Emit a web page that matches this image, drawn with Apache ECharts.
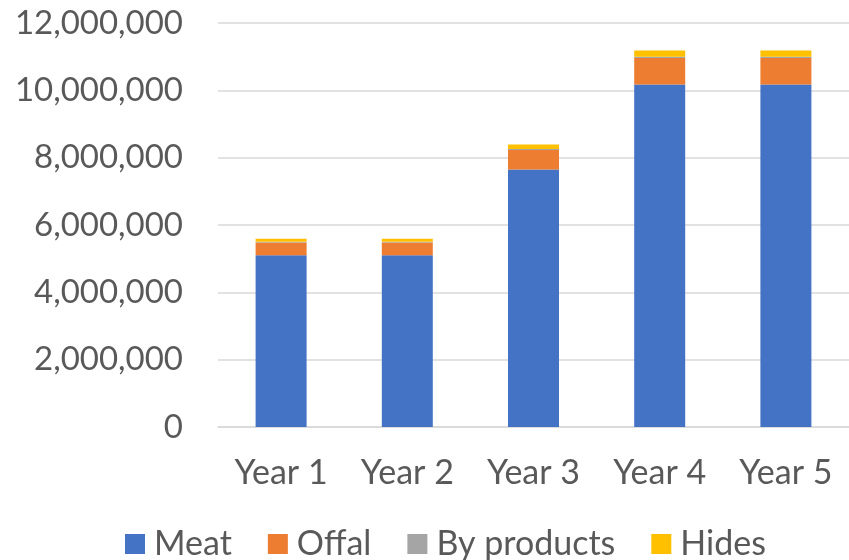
<!DOCTYPE html>
<html><head><meta charset="utf-8">
<script src="https://cdn.jsdelivr.net/npm/echarts@6/dist/echarts.min.js"></script>
<style>html,body{margin:0;padding:0;background:#fff}#c{width:849px;height:560px}</style>
</head><body><div id="c"></div>
<script>
const categories = ['Year 1','Year 2','Year 3','Year 4','Year 5'];
const meat = [5100000, 5100000, 7650000, 10170000, 10170000];
const offal = [380000, 380000, 580000, 790000, 790000];
const byProducts = [20000, 20000, 30000, 40000, 40000];
const hides = [90000, 90000, 130000, 180000, 180000];
const seriesNames = ['Meat','Offal','By products','Hides'];
const colors = ['#4472C4','#ED7D31','#A5A5A5','#FFC000'];
const FONT = 'Lato';
const chart = echarts.init(document.getElementById('c'));
const data = [meat, offal, byProducts, hides];
chart.setOption({
  animation: false,
  color: colors,
  grid: {left: 218, right: -3, top: 23, bottom: 133, containLabel: false},
  legend: {
    top: 527, left: 125, itemWidth: 20, itemHeight: 20, itemGap: 36,
    icon: 'rect', padding: 0,
    textStyle: {fontFamily: FONT, fontSize: 34, color: '#595959', padding: [0, 0, 0, 4]},
    data: seriesNames
  },
  xAxis: {
    type: 'category', data: categories,
    axisLine: {lineStyle: {color: '#D9D9D9', width: 1.5}},
    axisTick: {show: false},
    axisLabel: {fontFamily: FONT, fontSize: 34, color: '#595959', margin: 29}
  },
  yAxis: {
    type: 'value', min: 0, max: 12000000, interval: 2000000,
    axisLine: {show: false}, axisTick: {show: false},
    splitLine: {lineStyle: {color: '#D9D9D9', width: 1.5}},
    axisLabel: {fontFamily: FONT, fontSize: 33, color: '#595959', margin: 35,
      formatter: v => v.toLocaleString('en-US')}
  },
  series: seriesNames.map((n, i) => ({
    name: n, type: 'bar', stack: 'total', barWidth: 51,
    data: data[i]
  }))
});
</script></body></html>
